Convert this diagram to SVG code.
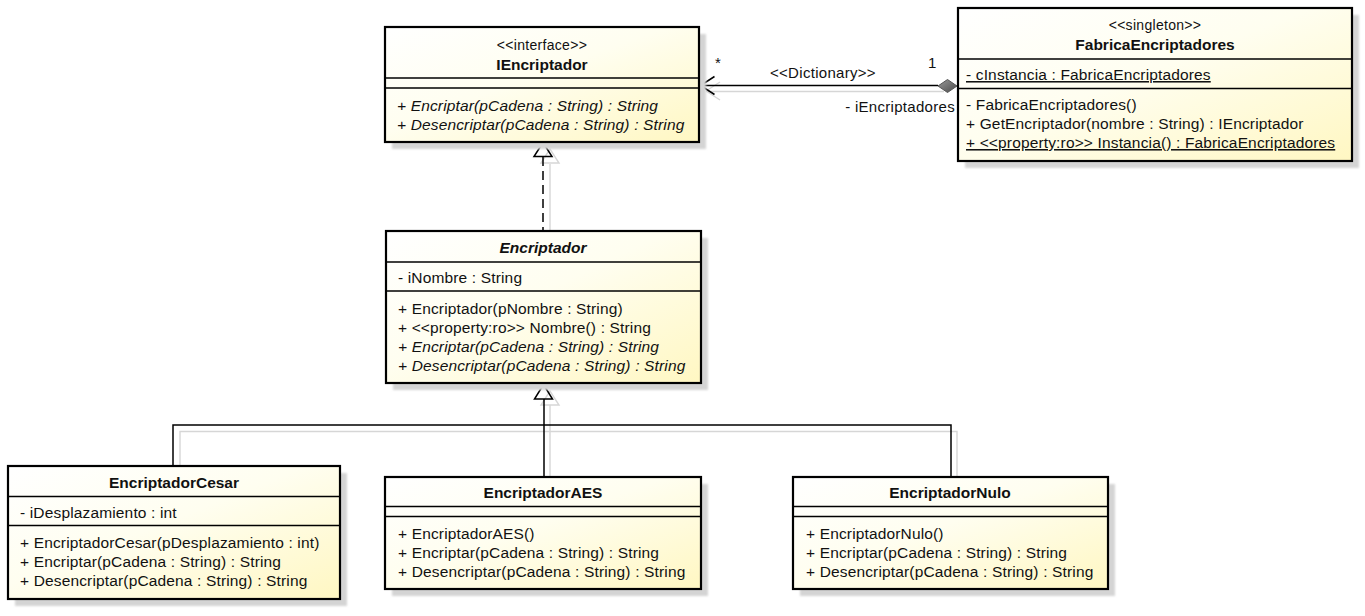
<svg xmlns="http://www.w3.org/2000/svg" width="1365" height="616" viewBox="0 0 1365 616">
<defs>
<linearGradient id="fill" x1="0" y1="0" x2="1" y2="1">
<stop offset="0" stop-color="#ffffff"/>
<stop offset="0.45" stop-color="#fffef0"/>
<stop offset="1" stop-color="#fff7c2"/>
</linearGradient>
<linearGradient id="dia" x1="0" y1="0" x2="1" y2="1">
<stop offset="0" stop-color="#9a9a9a"/>
<stop offset="1" stop-color="#4a4a4a"/>
</linearGradient>
<filter id="blur" x="-5%" y="-5%" width="110%" height="110%"><feGaussianBlur stdDeviation="1.2"/></filter>
</defs>
<style>
text{font-family:"Liberation Sans",Arial,sans-serif;font-size:15.5px;letter-spacing:0.15px;fill:#111}
.st{font-size:14px;letter-spacing:0.3px;text-anchor:middle}
.nm{font-weight:bold;text-anchor:middle;letter-spacing:0}
.it{font-style:italic}
.ul{text-decoration:underline}
.box{fill:url(#fill);stroke:#000;stroke-width:2.2}
.sh{fill:#d4d4d4;filter:url(#blur)}
.sep{stroke:#000;stroke-width:1.4}
.ln{fill:none;stroke:#000;stroke-width:1.5}
.lsh{fill:none;stroke:#d6d6d6;stroke-width:1.4}
.lbl{font-size:15px;letter-spacing:0.3px}
</style>

<g id="connectors">
<path class="lsh" d="M706,91.5 H944 M706,91 L720,82 M706,91 L720,100"/>
<path class="lsh" d="M550,164 V238"/>
<polygon class="lsh" points="550,149 541,163 559,163"/>
<polygon class="lsh" points="550,391 541,405 559,405"/>
<path class="lsh" d="M550,405 V483 M180,466 V431.5 H957 V483"/>
<path class="ln" d="M543,157 V231" stroke-dasharray="9,5"/>
<polygon class="ln" points="543,142.5 534,156.5 552,156.5" fill="#fff"/>
<path class="ln" d="M544,399 V477 M173,466 V425 H951 V477"/>
<polygon class="ln" points="543.5,384.5 534.5,399 552.5,399" fill="#fff"/>
<path class="ln" d="M938,85.5 H700.5"/>
<path class="ln" d="M714.5,76.5 L700.5,85.5 L714.5,94.5"/>
<polygon points="957,86 947.5,79.5 938,86 947.5,92.5" fill="url(#dia)" stroke="#555" stroke-width="1"/>
<text class="lbl" x="715" y="68">*</text>
<text class="lbl" x="770" y="78">&lt;&lt;Dictionary&gt;&gt;</text>
<text class="lbl" x="928" y="68">1</text>
<text class="lbl" x="955" y="112" text-anchor="end">- iEncriptadores</text>
</g>

<g id="IEncriptador">
<rect class="sh" x="392" y="34" width="314" height="115"/>
<rect class="box" x="385" y="27" width="314" height="115"/>
<line class="sep" x1="385" y1="78" x2="699" y2="78"/>
<line class="sep" x1="385" y1="88" x2="699" y2="88"/>
<text class="st" x="542" y="49.5">&lt;&lt;interface&gt;&gt;</text>
<text class="nm" x="542" y="69.5">IEncriptador</text>
<text class="it" x="397" y="110.5">+ Encriptar(pCadena : String) : String</text>
<text class="it" x="397" y="129.5">+ Desencriptar(pCadena : String) : String</text>
</g>

<g id="FabricaEncriptadores">
<rect class="sh" x="965" y="15" width="394" height="153"/>
<rect class="box" x="958" y="8" width="394" height="153"/>
<line class="sep" x1="958" y1="59" x2="1352" y2="59"/>
<line class="sep" x1="958" y1="88.5" x2="1352" y2="88.5"/>
<text class="st" x="1155" y="30">&lt;&lt;singleton&gt;&gt;</text>
<text class="nm" x="1155" y="50">FabricaEncriptadores</text>
<text class="ul" x="966" y="80">- cInstancia : FabricaEncriptadores</text>
<text x="966" y="110">- FabricaEncriptadores()</text>
<text x="966" y="129">+ GetEncriptador(nombre : String) : IEncriptador</text>
<text class="ul" x="966" y="148">+ &lt;&lt;property:ro&gt;&gt; Instancia() : FabricaEncriptadores</text>
</g>

<g id="Encriptador">
<rect class="sh" x="393" y="238" width="315" height="152"/>
<rect class="box" x="386" y="231" width="315" height="152"/>
<line class="sep" x1="386" y1="262" x2="701" y2="262"/>
<line class="sep" x1="386" y1="291" x2="701" y2="291"/>
<text class="nm it" x="543" y="253">Encriptador</text>
<text x="398" y="283">- iNombre : String</text>
<text x="398" y="314">+ Encriptador(pNombre : String)</text>
<text x="398" y="333">+ &lt;&lt;property:ro&gt;&gt; Nombre() : String</text>
<text class="it" x="398" y="352">+ Encriptar(pCadena : String) : String</text>
<text class="it" x="398" y="371">+ Desencriptar(pCadena : String) : String</text>
</g>

<g id="EncriptadorCesar">
<rect class="sh" x="15" y="473" width="332" height="133"/>
<rect class="box" x="8" y="466" width="332" height="133"/>
<line class="sep" x1="8" y1="496.5" x2="340" y2="496.5"/>
<line class="sep" x1="8" y1="525.5" x2="340" y2="525.5"/>
<text class="nm" x="174" y="488">EncriptadorCesar</text>
<text x="20" y="518">- iDesplazamiento : int</text>
<text x="20" y="547.5">+ EncriptadorCesar(pDesplazamiento : int)</text>
<text x="20" y="566.5">+ Encriptar(pCadena : String) : String</text>
<text x="20" y="585.5">+ Desencriptar(pCadena : String) : String</text>
</g>

<g id="EncriptadorAES">
<rect class="sh" x="392" y="484" width="316" height="112"/>
<rect class="box" x="385" y="477" width="316" height="112"/>
<line class="sep" x1="385" y1="506.5" x2="701" y2="506.5"/>
<line class="sep" x1="385" y1="516.5" x2="701" y2="516.5"/>
<text class="nm" x="543" y="498">EncriptadorAES</text>
<text x="398" y="538.5">+ EncriptadorAES()</text>
<text x="398" y="557.5">+ Encriptar(pCadena : String) : String</text>
<text x="398" y="576.5">+ Desencriptar(pCadena : String) : String</text>
</g>

<g id="EncriptadorNulo">
<rect class="sh" x="800" y="484" width="315" height="112"/>
<rect class="box" x="793" y="477" width="315" height="112"/>
<line class="sep" x1="793" y1="506.5" x2="1108" y2="506.5"/>
<line class="sep" x1="793" y1="516.5" x2="1108" y2="516.5"/>
<text class="nm" x="950" y="498">EncriptadorNulo</text>
<text x="806" y="538.5">+ EncriptadorNulo()</text>
<text x="806" y="557.5">+ Encriptar(pCadena : String) : String</text>
<text x="806" y="576.5">+ Desencriptar(pCadena : String) : String</text>
</g>
</svg>
